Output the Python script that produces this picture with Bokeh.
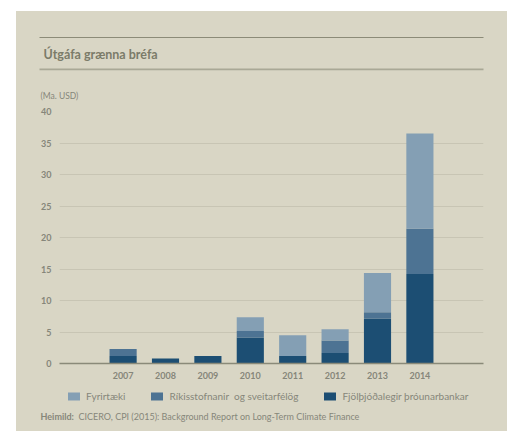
from bokeh.plotting import figure
from bokeh.layouts import column
from bokeh.models import (FactorRange, Range1d, Label, BoxAnnotation, Legend,
                          LegendItem, FixedTicker)
from bokeh.embed import file_html
from bokeh.resources import INLINE

# ---- data ----
years = ["2007", "2008", "2009", "2010", "2011", "2012", "2013", "2014"]
multilateral = [1.2, 0.8, 1.2, 4.1, 1.2, 1.65, 7.1, 14.2]   # Fjölþjóðalegir þróunarbankar
government = [1.1, 0.0, 0.0, 1.05, 0.0, 2.0, 1.05, 7.2]     # Ríkisstofnanir og sveitarfélög
corporate = [0.0, 0.0, 0.0, 2.2, 3.3, 1.8, 6.2, 15.1]       # Fyrirtæki
series_keys = ["multilateral", "government", "corporate"]
series_labels = ["Fjölþjóðalegir þróunarbankar", "Ríkisstofnanir  og sveitarfélög", "Fyrirtæki"]
y_ticks = [0, 5, 10, 15, 20, 25, 30, 35, 40]
title_text = "Útgáfa grænna bréfa"
unit_text = "(Ma. USD)"
source_bold = "Heimild:"
source_text = "CICERO, CPI (2015): Background Report on Long-Term Climate Finance"

# ---- style ----
BG = "#d9d6c5"
GRID = "#c8c5b4"
AXIS = "#8a8a79"
TXT = "#86867a"
COLORS = ["#1c4e73", "#4d7393", "#849fb4"]
FONT = "Lato"
W = 491

data = {"years": years, "multilateral": multilateral,
        "government": government, "corporate": corporate}


def no_align(f):
    try:
        f.frame_align = False
    except Exception:
        pass


def blank(h, x_range=None, y_range=None):
    f = figure(width=W, height=h,
               x_range=x_range if x_range is not None else Range1d(0, 1),
               y_range=y_range if y_range is not None else Range1d(0, 1),
               x_axis_type=None, y_axis_type=None, output_backend="svg",
               toolbar_location=None, min_border=0)
    f.min_border_left = f.min_border_right = f.min_border_top = f.min_border_bottom = 0
    f.background_fill_color = BG
    f.border_fill_color = BG
    f.outline_line_color = None
    f.grid.visible = False
    no_align(f)
    return f


def hrule(f, left, right, bottom, top, color):
    f.add_layout(BoxAnnotation(left=left, right=right, top=top, bottom=bottom,
                               left_units="screen", right_units="screen",
                               top_units="screen", bottom_units="screen",
                               fill_color=color, fill_alpha=1, line_color=None))


# ---- header ----
head = blank(91)
hrule(head, 23, 467, 64.5, 65.5, "#8c8b78")
hrule(head, 23, 467, 32.3, 34.0, "#a9a896")
head.add_layout(Label(x=27, y=48, x_units="screen", y_units="screen",
                      text=title_text, text_font=FONT, text_font_size="12.5px",
                      text_font_style="bold", text_color="#7b7b69",
                      text_baseline="middle"))
head.add_layout(Label(x=24, y=7, x_units="screen", y_units="screen",
                      text=unit_text, text_font=FONT, text_font_size="8.5px",
                      text_color=TXT, text_baseline="middle"))

# ---- chart ----
p = figure(x_range=FactorRange(*years, range_padding=0.25),
           y_range=Range1d(0, 40),
           width=W, height=283,
           output_backend="svg", toolbar_location=None,
           min_border_left=43, min_border_right=24,
           min_border_top=9, min_border_bottom=22)
p.background_fill_color = BG
p.border_fill_color = BG
p.outline_line_color = None
no_align(p)

renderers = p.vbar_stack(series_keys, x="years", width=0.64, color=COLORS,
                         source=data, line_color=None)

p.yaxis.ticker = FixedTicker(ticks=y_ticks)
p.yaxis.axis_line_color = None
p.yaxis.major_tick_line_color = None
p.yaxis.minor_tick_line_color = None
p.yaxis.major_tick_out = 0
p.yaxis.major_tick_in = 0
p.yaxis.major_label_standoff = 8
p.yaxis.major_label_text_font = FONT
p.yaxis.major_label_text_font_size = "9px"
p.yaxis.major_label_text_font_style = "bold"
p.yaxis.major_label_text_color = TXT

p.xaxis.axis_line_color = AXIS
p.xaxis.axis_line_width = 1.5
p.xaxis.major_tick_line_color = None
p.xaxis.minor_tick_line_color = None
p.xaxis.major_tick_out = 0
p.xaxis.major_tick_in = 0
p.xaxis.major_label_standoff = 8
p.xaxis.major_label_text_font = FONT
p.xaxis.major_label_text_font_size = "9px"
p.xaxis.major_label_text_font_style = "bold"
p.xaxis.major_label_text_color = TXT

p.xgrid.grid_line_color = None
p.ygrid.grid_line_color = GRID
p.ygrid.grid_line_width = 1

# ---- footer (legend + source) ----
# the same stacked series, hidden, so that this panel's legend has renderers
# to draw its swatches from
foot = blank(46, x_range=FactorRange(*years), y_range=Range1d(-2, -1))
swatches = foot.vbar_stack(series_keys, x="years", width=0.64, color=COLORS,
                           source=data, line_color=None)
for r in swatches:
    r.visible = False
items = [LegendItem(label=series_labels[i], renderers=[swatches[i]]) for i in (2, 1, 0)]
legend = Legend(items=items, orientation="horizontal", location=(50, 29),
                glyph_width=15, glyph_height=10, label_height=10,
                label_standoff=5, spacing=24, padding=0, margin=0,
                label_text_font=FONT, label_text_font_size="10px",
                label_text_color=TXT, border_line_color=None,
                background_fill_alpha=0, inactive_fill_alpha=0)
foot.add_layout(legend, "center")
foot.add_layout(Label(x=24, y=15, x_units="screen", y_units="screen",
                      text=source_bold, text_font=FONT, text_font_size="9px",
                      text_font_style="bold", text_color=TXT, text_baseline="middle"))
foot.add_layout(Label(x=62, y=15, x_units="screen", y_units="screen",
                      text=source_text, text_font=FONT, text_font_size="9px",
                      text_color=TXT, text_baseline="middle"))

layout = column(head, p, foot, margin=(11, 0, 0, 16), spacing=0,
                styles={"background-color": BG})
open("out.html", "w").write(file_html(layout, INLINE))
